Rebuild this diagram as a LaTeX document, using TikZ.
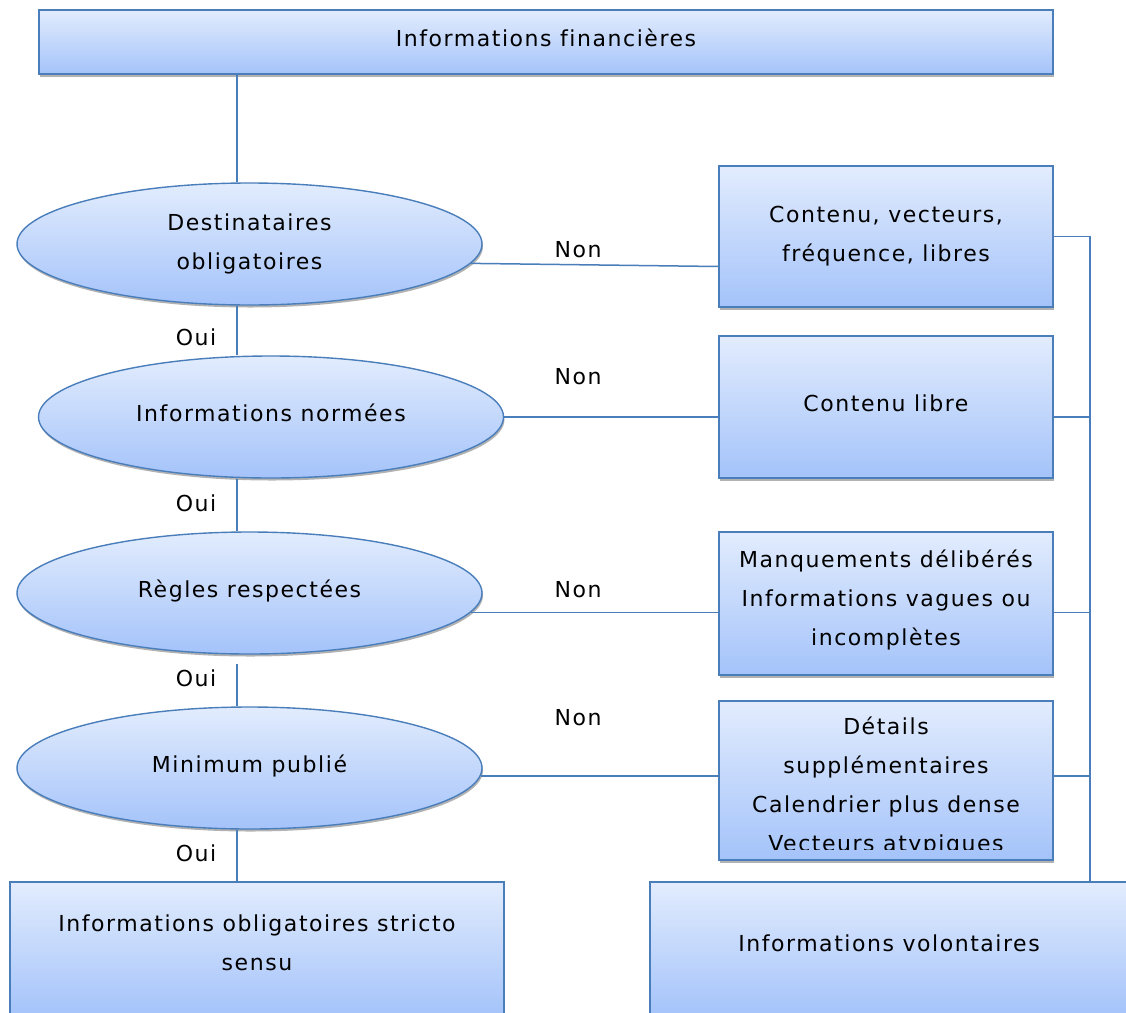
\documentclass[tikz,border=0pt]{standalone}
\usepackage{fontspec}
\setmainfont{DejaVu Sans}[LetterSpace=7,Ligatures=NoCommon]
\usetikzlibrary{shapes.geometric,shadows,calc}
\definecolor{bord}{RGB}{74,126,187}
\definecolor{gtop}{RGB}{226,236,253}
\definecolor{gbot}{RGB}{164,195,250}
\newcommand\txtfont{\fontsize{22}{39}\selectfont}
\tikzset{
 sh/.style={drop shadow={shadow xshift=1pt,shadow yshift=-2.5pt,opacity=0.3,fill=black}},
 rbox/.style={draw=bord,line width=1.5pt,top color=gtop,bottom color=gbot,sh,inner sep=0pt,align=center,font=\txtfont},
 ell/.style={ellipse,draw=bord,line width=1.4pt,top color=gtop,bottom color=gbot,sh,minimum width=465pt,minimum height=122pt,inner sep=0pt,align=center,font=\txtfont},
 oneline/.style={text height=16pt,text depth=8pt},
 txt/.style={inner sep=0pt,align=center,font=\txtfont},
 lbl/.style={inner sep=0pt,font=\txtfont},
 conn/.style={draw=bord,line width=1.5pt},
}
\begin{document}
\begin{tikzpicture}[x=1pt,y=-1pt]
\useasboundingbox (0,0) rectangle (1126,1012);
\clip (0,0) rectangle (1126,1012);
\fill[white] (0,0) rectangle (1126,1012);
% nodes
\node[rbox,oneline,minimum width=1014pt,minimum height=64pt] (top) at (546,42) {Informations financières};
\node[ell] (e1) at (249.5,244) {Destinataires\\obligatoires};
\node[ell,oneline] (e2) at (271,417) {Informations normées};
\node[ell,oneline] (e3) at (249.5,593) {Règles respectées};
\node[ell,oneline] (e4) at (249.5,768) {Minimum publié};
\node[rbox,minimum width=334pt,minimum height=141pt] (b1) at (886,236.5) {Contenu, vecteurs,\\fréquence, libres};
\node[rbox,oneline,minimum width=334pt,minimum height=142pt] (b2) at (886,407) {Contenu libre};
\node[rbox,minimum width=334pt,minimum height=143pt] (b3) at (886,603.5) {};
\node[txt] (b3t) at (886,599.5) {Manquements délibérés\\Informations vagues ou\\incomplètes};
\node[rbox,minimum width=334pt,minimum height=159pt] (b4) at (886,780.5) {};
\begin{scope}
\clip (b4.north west) rectangle ([yshift=11pt]b4.south east);
\node[txt] (b4t) at (886,786) {Détails\\supplémentaires\\Calendrier plus dense\\Vecteurs atypiques};
\end{scope}
\node[rbox,minimum width=494pt,minimum height=134pt] (bl) at (257,949) {};
\node[txt] (blt) at (257,943) {Informations obligatoires stricto\\sensu};
\node[rbox,minimum width=478pt,minimum height=134pt] (br) at (889,949) {};
\node[txt] (brt) at (889,943) {Informations volontaires};
% labels
\node[lbl] (o1) at (196,337) {Oui};
\node[lbl] (o2) at (196,503) {Oui};
\node[lbl] (o3) at (196,678) {Oui};
\node[lbl] (o4) at (196,853) {Oui};
\node[lbl] (n1) at (578,250) {Non};
\node[lbl] (n2) at (578,377) {Non};
\node[lbl] (n3) at (578,590) {Non};
\node[lbl] (n4) at (578,718) {Non};
% connectors
\coordinate (tx) at (237,0);
\coordinate (vx) at (1090,236.5);
\draw[conn] (tx |- top.south) -- (tx |- e1.north);
\draw[conn] (tx |- e1.south) -- (tx |- e2.north);
\draw[conn] (tx |- e2.south) -- (tx |- e3.north);
\draw[conn] ($(tx |- e3.south)+(0,9)$) -- (tx |- e4.north);
\draw[conn] (tx |- e4.south) -- (tx |- bl.north);
\draw[conn] (e1.-5) -- ([yshift=-30pt]b1.west);
\draw[conn] (e2.east) -- (e2.east -| b2.west);
\draw[conn] (e3.-5) -- (e3.-5 -| b3.west);
\draw[conn] (e4.-2) -- (e4.-2 -| b4.west);
\draw[conn] (b1.east) -- (vx) -- (vx |- br.north);
\draw[conn] (e2.east -| b2.east) -- (e2.east -| vx);
\draw[conn] (e3.-5 -| b3.east) -- (e3.-5 -| vx);
\draw[conn] (e4.-2 -| b4.east) -- (e4.-2 -| vx);
\end{tikzpicture}
\end{document}
